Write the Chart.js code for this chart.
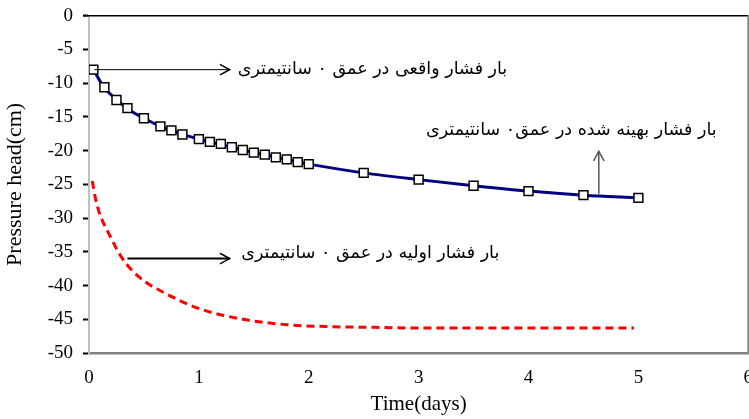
<!DOCTYPE html>
<html>
<head>
<meta charset="utf-8">
<script src="https://cdn.jsdelivr.net/npm/chart.js@4.4.1/dist/chart.umd.min.js"></script>
<style>
  html, body { margin: 0; padding: 0; background: #fff; overflow: hidden; }
  #wrap { width: 767px; height: 419px; position: relative; }
</style>
</head>
<body>
<div id="wrap"><canvas id="c"></canvas></div>
<script>
// ---- data ----
const observedDays = [0.04, 0.14, 0.25, 0.35, 0.5, 0.65, 0.75, 0.85, 1.0, 1.1, 1.2, 1.3, 1.4, 1.5, 1.6, 1.7, 1.8, 1.9, 2.0, 2.5, 3.0, 3.5, 4.0, 4.5, 5.0];
const observedHead = [-8.0, -10.6, -12.5, -13.7, -15.2, -16.4, -17.0, -17.6, -18.3, -18.7, -19.0, -19.5, -19.9, -20.3, -20.6, -21.0, -21.3, -21.7, -22.0, -23.3, -24.3, -25.2, -26.0, -26.6, -27.0];
const optimizedDays = [0.04, 0.14, 0.25, 0.35, 0.5, 0.65, 0.75, 0.85, 1.0, 1.1, 1.2, 1.3, 1.4, 1.5, 1.6, 1.7, 1.8, 1.9, 2.0, 2.5, 3.0, 3.5, 4.0, 4.5, 5.0];
const optimizedHead = [-8.0, -10.7, -12.4, -13.8, -15.2, -16.4, -17.0, -17.6, -18.3, -18.7, -19.1, -19.5, -19.9, -20.3, -20.6, -21.0, -21.3, -21.7, -22.0, -23.3, -24.3, -25.2, -26.0, -26.6, -27.0];
const initialDays = [0.03, 0.06, 0.1, 0.18, 0.3, 0.46, 0.7, 1.0, 1.4, 1.8, 2.2, 2.6, 3.0, 3.5, 4.0, 4.5, 4.96];
const initialHead = [-24.5, -27.2, -29.5, -32.3, -35.9, -38.8, -41.2, -43.4, -45.0, -45.8, -46.1, -46.2, -46.3, -46.3, -46.3, -46.3, -46.3];
const xTickLabels = ['0', '1', '2', '3', '4', '5', '6'];
const yTickValues = [0, -5, -10, -15, -20, -25, -30, -35, -40, -45, -50];
const xAxisTitle = 'Time(days)';
const yAxisTitle = 'Pressure head(cm)';
const noteTexts = [
  'بار فشار واقعی در عمق ۰ سانتیمتری',
  'بار فشار بهینه شده در عمق۰ سانتیمتری',
  'بار فشار اولیه در عمق ۰ سانتیمتری'
];

// ---- annotation placement (data coordinates) ----
const notePlacement = [
  { tx: 2.58, ty: -8.0, ax0: 0.05, ay0: -8.0, ax1: 1.28, ay1: -8.0, color: '#000', width: 1 },
  { tx: 4.39, ty: -17.0, ax0: 4.64, ay0: -26.4, ax1: 4.64, ay1: -20.1, color: '#555', width: 1.5 },
  { tx: 2.56, ty: -35.3, ax0: 0.35, ay0: -36.0, ax1: 1.28, ay1: -36.0, color: '#000', width: 2 }
];

const toPts = (xs, ys) => xs.map((x, i) => ({ x: x, y: ys[i] }));

const framePlugin = {
  id: 'frame',
  afterDatasetsDraw(chart) {
    const { ctx, chartArea: a } = chart;
    ctx.save();
    ctx.strokeStyle = '#000';
    ctx.lineWidth = 1.5;
    ctx.beginPath();
    ctx.moveTo(a.left - 6, a.top);
    ctx.lineTo(a.right, a.top);
    ctx.stroke();
    ctx.strokeStyle = '#8a8a8a';
    ctx.lineWidth = 2;
    ctx.beginPath();
    ctx.moveTo(a.right, a.top);
    ctx.lineTo(a.right, a.bottom + 1);
    ctx.stroke();
    ctx.restore();
  },
  afterDraw(chart) {
    const { ctx, scales: { x, y } } = chart;
    ctx.save();
    notePlacement.forEach((p, i) => {
      const x0 = x.getPixelForValue(p.ax0), y0 = y.getPixelForValue(p.ay0);
      const x1 = x.getPixelForValue(p.ax1), y1 = y.getPixelForValue(p.ay1);
      ctx.strokeStyle = p.color;
      ctx.lineWidth = p.width;
      ctx.beginPath();
      ctx.moveTo(x0, y0);
      ctx.lineTo(x1, y1);
      ctx.stroke();
      const ang = Math.atan2(y1 - y0, x1 - x0);
      const L = 11, spread = 0.5;
      ctx.lineWidth = 1.5;
      ctx.beginPath();
      ctx.moveTo(x1 - L * Math.cos(ang - spread), y1 - L * Math.sin(ang - spread));
      ctx.lineTo(x1, y1);
      ctx.lineTo(x1 - L * Math.cos(ang + spread), y1 - L * Math.sin(ang + spread));
      ctx.stroke();
      ctx.fillStyle = '#000';
      ctx.font = '17.5px "DejaVu Sans"';
      ctx.textAlign = 'center';
      ctx.textBaseline = 'middle';
      ctx.fillText(noteTexts[i], x.getPixelForValue(p.tx), y.getPixelForValue(p.ty));
    });
    ctx.restore();
  }
};

new Chart(document.getElementById('c'), {
  type: 'scatter',
  data: {
    datasets: [
      {
        label: 'optimized',
        data: toPts(optimizedDays, optimizedHead),
        showLine: true,
        borderColor: '#000080',
        borderWidth: 3,
        pointRadius: 0,
        cubicInterpolationMode: 'monotone',
        order: 2
      },
      {
        label: 'observed',
        data: toPts(observedDays, observedHead),
        showLine: false,
        pointStyle: 'rect',
        pointRadius: 6.3,
        pointBackgroundColor: '#fff',
        pointBorderColor: '#000',
        pointBorderWidth: 1.5,
        order: 1
      },
      {
        label: 'initial',
        data: toPts(initialDays, initialHead),
        showLine: true,
        borderColor: '#ff0000',
        borderWidth: 3,
        borderDash: [8, 5],
        pointRadius: 0,
        cubicInterpolationMode: 'monotone',
        order: 3
      }
    ]
  },
  options: {
    responsive: true,
    maintainAspectRatio: false,
    animation: false,
    layout: { padding: { top: 14, right: 0, left: 0, bottom: 0 } },
    plugins: { legend: { display: false }, tooltip: { enabled: false } },
    scales: {
      x: {
        type: 'linear',
        min: 0, max: 6,
        afterBuildTicks(s) { s.ticks = xTickLabels.map(v => ({ value: Number(v) })); },
        ticks: {
          callback: (v, i) => xTickLabels[i],
          color: '#000',
          font: { family: '"Liberation Serif"', size: 19 },
          padding: 14,
          maxRotation: 0
        },
        grid: { display: true, drawOnChartArea: false, drawTicks: false },
        border: { color: '#808080', width: 2.5 },
        title: {
          display: true, text: xAxisTitle, color: '#000',
          font: { family: '"Liberation Serif"', size: 21 },
          padding: { top: 0, bottom: 2 }
        },
        afterFit(s) { s.height = 66; }
      },
      y: {
        type: 'linear',
        min: -50, max: 0,
        afterBuildTicks(s) { s.ticks = yTickValues.map(v => ({ value: v })); },
        ticks: {
          color: '#000',
          font: { family: '"Liberation Serif"', size: 19, lineHeight: 0.6 },
          padding: 10
        },
        grid: { display: true, drawOnChartArea: false, drawTicks: true, tickLength: 6, color: '#000', tickWidth: 2 },
        border: { color: '#c0c0c0', width: 2 },
        title: {
          display: true, text: yAxisTitle, color: '#000',
          font: { family: '"Liberation Serif"', size: 22 },
          padding: { top: 2, bottom: 0 }
        },
        afterFit(s) { s.width = 89; }
      }
    }
  },
  plugins: [framePlugin]
});
</script>
</body>
</html>
